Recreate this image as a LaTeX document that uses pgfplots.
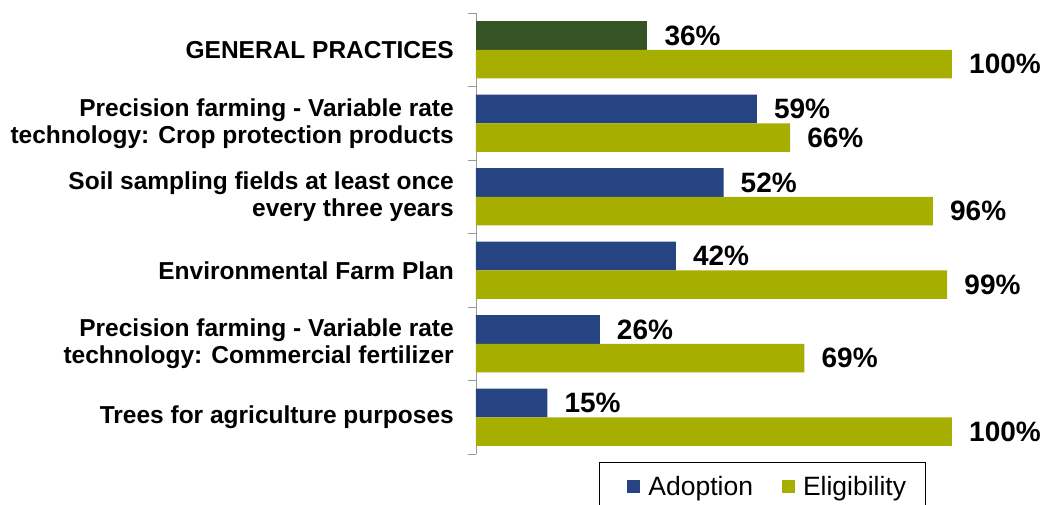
\documentclass[border=0pt]{standalone}
\usepackage{pgfplots}
\pgfplotsset{compat=1.18}
\usepackage{fontspec}
\setmainfont{Liberation Sans}
\definecolor{adopt}{HTML}{264482}
\definecolor{elig}{HTML}{A6AE00}
\definecolor{gen}{HTML}{345425}
\begin{document}
\begin{tikzpicture}
\path[use as bounding box] (-476pt,-50pt) rectangle (569pt,454pt);
\begin{axis}[
  at={(0pt,0pt)}, anchor=south west,
  scale only axis, width=476pt, height=441pt,
  xbar, xmin=0, xmax=100,
  ymin=-0.5, ymax=5.5, y dir=reverse,
  bar width=0.39,
  axis x line=none,
  axis y line=left,
  y axis line style={-, draw=gray!80, line width=0.8pt},
  ytick={0,...,5},
  yticklabels={GENERAL PRACTICES,{Precision farming - Variable rate\\technology: Crop protection products},{Soil sampling fields at least once\\every three years},Environmental Farm Plan,{Precision farming - Variable rate\\technology: Commercial fertilizer},Trees for agriculture purposes},
  major tick length=0pt,
  minor ytick={-0.5,0.5,...,5.5},
  minor tick length=8pt,
  tick align=outside,
  minor tick style={draw=gray!80, line width=0.8pt},
  yticklabel style={align=right, font=\fontsize{24.5}{27}\selectfont\bfseries, inner sep=0pt, anchor=east, xshift=-22pt},
  point meta=x,
  nodes near coords={\pgfmathprintnumber[fixed,precision=0]{\pgfplotspointmeta}\%},
  nodes near coords style={font=\fontsize{28}{30}\selectfont\bfseries, anchor=west, inner sep=0pt, xshift=17pt},
  /pgf/number format/assume math mode=true,
  clip=false,
  legend style={at={(0.2584,0)}, anchor=north west, yshift=-8pt, legend columns=2, draw=black, line width=0.8pt,
    font=\fontsize{26.5}{30}\selectfont, inner xsep=17pt, inner ysep=12pt,
    /tikz/every odd column/.append style={column sep=6pt},
    /tikz/every even column/.append style={column sep=16pt}},
  legend image code/.code={\path (0pt,0pt); \fill[#1] (11pt,-6.5pt) rectangle (24pt,6.5pt);},
]
\addplot[fill=gen, draw=none, bar shift=-0.195, forget plot] coordinates {(36,0)};
\addplot[fill=adopt, draw=none, bar shift=-0.195] coordinates {(59,1) (52,2) (42,3) (26,4) (15,5)};
\addplot[fill=elig, draw=none, bar shift=0.195] coordinates {(100,0) (66,1) (96,2) (99,3) (69,4) (100,5)};
\legend{Adoption,Eligibility}
\end{axis}
\end{tikzpicture}
\end{document}
